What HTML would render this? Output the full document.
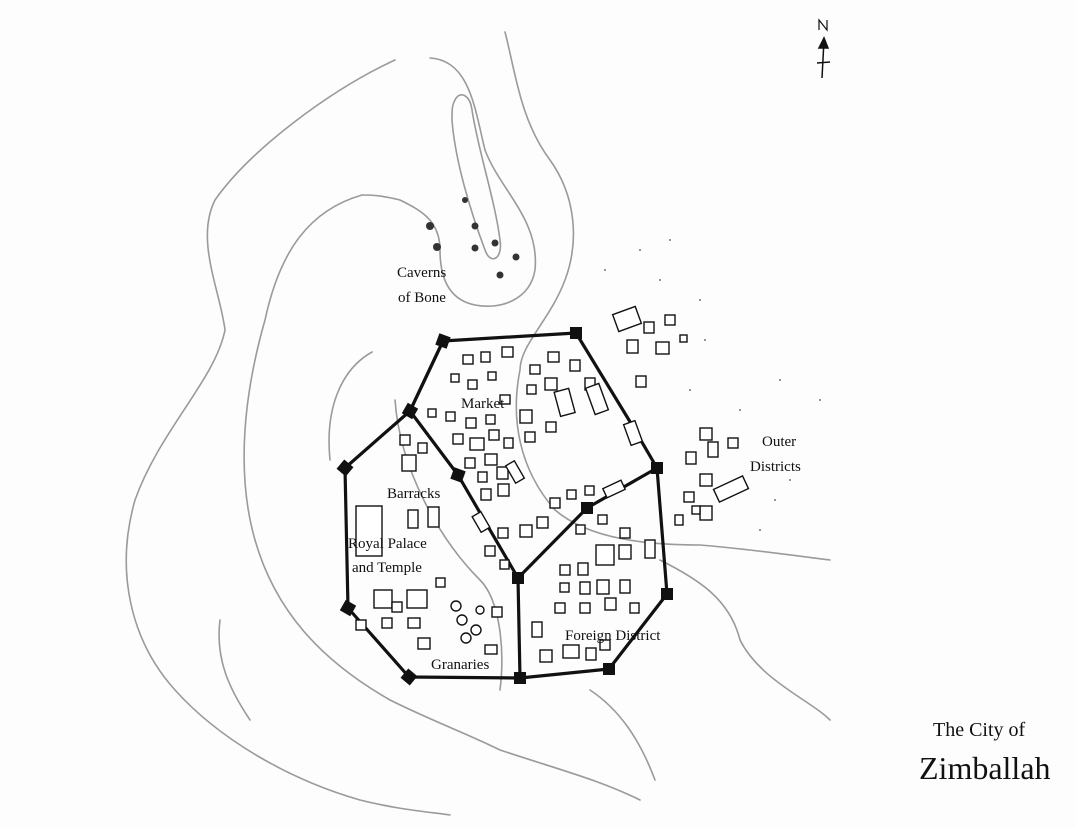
<!DOCTYPE html>
<html><head><meta charset="utf-8"><style>
html,body{margin:0;padding:0;background:#fff}
svg{display:block}
text{font-family:"Liberation Serif",serif;fill:#111}
</style></head><body>
<svg width="1076" height="827" viewBox="0 0 1076 827" xmlns="http://www.w3.org/2000/svg">
<rect width="1076" height="827" fill="#fdfdfd"/>
<g fill="none" stroke="#9a9a9a" stroke-width="1.6" stroke-linecap="round">
<path d="M395,60 C330,90 250,150 215,200 C195,240 220,290 225,330 C215,380 160,430 135,500 C115,570 130,640 175,690 C220,740 290,780 360,800 C400,810 430,812 450,815"/>
<path d="M362,195 C310,210 280,250 265,320 C245,390 235,470 255,540 C275,610 320,660 390,700 C430,720 470,735 500,750 C560,770 600,780 640,800"/>
<path d="M430,58 C470,60 475,110 485,150 C500,190 540,220 535,270 C530,300 500,310 475,305 C450,300 440,280 440,250 C440,220 420,210 400,200 C380,195 370,195 362,195"/>
<path d="M455,100 C460,90 470,95 472,110 C478,150 495,200 500,240 C503,260 490,265 485,250 C470,210 455,160 452,120 C452,110 452,105 455,100 Z"/>
<path d="M505,32 C515,70 520,120 550,160 C575,195 580,240 565,280 C550,320 520,345 520,370 C510,420 520,470 555,510 C590,540 650,545 700,545 C740,548 790,555 830,560"/>
<path d="M372,352 C340,370 325,410 330,460"/>
<path d="M395,400 C400,470 440,540 480,580 C500,600 505,650 500,690"/>
<path d="M660,560 C700,580 730,600 740,640 C760,680 810,700 830,720"/>
<path d="M590,690 C620,710 640,740 655,780"/>
<path d="M250,720 C230,690 215,660 220,620"/>
</g>
<!-- walls -->
<g fill="none" stroke="#111" stroke-width="3.2" stroke-linejoin="round" stroke-linecap="round">
<path d="M443,341 L576,333 L632,425 L657,468 L667,594 L609,669 L520,678 L409,677 L348,608 L345,468 L410,411 Z"/>
<path d="M443,341 L410,411 L458,475 L518,578 L520,678"/>
<path d="M518,578 L587,508 L657,468"/>
</g>
<g fill="#111">
<rect x="437" y="335" width="12" height="12" transform="rotate(20 443 341)"/>
<rect x="570" y="327" width="12" height="12"/>
<rect x="404" y="405" width="12" height="12" transform="rotate(30 410 411)"/>
<rect x="339" y="462" width="12" height="12" transform="rotate(40 345 468)"/>
<rect x="452" y="469" width="12" height="12" transform="rotate(20 458 475)"/>
<rect x="651" y="462" width="12" height="12"/>
<rect x="581" y="502" width="12" height="12"/>
<rect x="512" y="572" width="12" height="12"/>
<rect x="661" y="588" width="12" height="12"/>
<rect x="342" y="602" width="12" height="12" transform="rotate(30 348 608)"/>
<rect x="403" y="671" width="12" height="12" transform="rotate(40 409 677)"/>
<rect x="514" y="672" width="12" height="12"/>
<rect x="603" y="663" width="12" height="12"/>
</g>
<g fill="#fff" stroke="#111" stroke-width="1.4">
<rect x="627" y="422" width="12" height="22" transform="rotate(-20 633 433)"/>
<rect x="604" y="484" width="20" height="10" transform="rotate(-25 614 489)"/>
<rect x="476" y="513" width="10" height="18" transform="rotate(-30 481 522)"/>
<rect x="356" y="506" width="26" height="50"/>
<!-- buildings -->
<g>
<rect x="463" y="355" width="10" height="9"/><rect x="481" y="352" width="9" height="10"/><rect x="502" y="347" width="11" height="10"/>
<rect x="451" y="374" width="8" height="8"/><rect x="468" y="380" width="9" height="9"/><rect x="488" y="372" width="8" height="8"/>
<rect x="530" y="365" width="10" height="9"/><rect x="548" y="352" width="11" height="10"/><rect x="570" y="360" width="10" height="11"/>
<rect x="527" y="385" width="9" height="9"/><rect x="545" y="378" width="12" height="12"/><rect x="585" y="378" width="10" height="12"/>
<rect x="557" y="390" width="15" height="25" transform="rotate(-15 564 402)"/><rect x="590" y="385" width="14" height="28" transform="rotate(-20 597 399)"/>
<rect x="500" y="395" width="10" height="9"/><rect x="520" y="410" width="12" height="13"/><rect x="546" y="422" width="10" height="10"/><rect x="525" y="432" width="10" height="10"/>
<rect x="428" y="409" width="8" height="8"/><rect x="446" y="412" width="9" height="9"/><rect x="466" y="418" width="10" height="10"/><rect x="486" y="415" width="9" height="9"/>
<rect x="453" y="434" width="10" height="10"/><rect x="470" y="438" width="14" height="12"/><rect x="489" y="430" width="10" height="10"/><rect x="504" y="438" width="9" height="10"/>
<rect x="465" y="458" width="10" height="10"/><rect x="485" y="454" width="12" height="11"/><rect x="497" y="467" width="11" height="12"/><rect x="510" y="462" width="10" height="20" transform="rotate(-30 515 472)"/>
<rect x="478" y="472" width="9" height="10"/><rect x="481" y="489" width="10" height="11"/><rect x="498" y="484" width="11" height="12"/>
<rect x="400" y="435" width="10" height="10"/><rect x="418" y="443" width="9" height="10"/><rect x="402" y="455" width="14" height="16"/>
<rect x="408" y="510" width="10" height="18"/><rect x="428" y="507" width="11" height="20"/>
<rect x="520" y="525" width="12" height="12"/><rect x="537" y="517" width="11" height="11"/><rect x="550" y="498" width="10" height="10"/><rect x="567" y="490" width="9" height="9"/><rect x="585" y="486" width="9" height="9"/>
<rect x="498" y="528" width="10" height="10"/><rect x="485" y="546" width="10" height="10"/><rect x="500" y="560" width="9" height="9"/>
<rect x="374" y="590" width="18" height="18"/><rect x="392" y="602" width="10" height="10"/><rect x="407" y="590" width="20" height="18"/>
<rect x="382" y="618" width="10" height="10"/><rect x="408" y="618" width="12" height="10"/><rect x="356" y="620" width="10" height="10"/><rect x="418" y="638" width="12" height="11"/><rect x="436" y="578" width="9" height="9"/>
<rect x="492" y="607" width="10" height="10"/><rect x="485" y="645" width="12" height="9"/>
<rect x="596" y="545" width="18" height="20"/><rect x="619" y="545" width="12" height="14"/><rect x="645" y="540" width="10" height="18"/>
<rect x="576" y="525" width="9" height="9"/><rect x="598" y="515" width="9" height="9"/><rect x="620" y="528" width="10" height="10"/>
<rect x="560" y="565" width="10" height="10"/><rect x="578" y="563" width="10" height="12"/><rect x="560" y="583" width="9" height="9"/>
<rect x="580" y="582" width="10" height="12"/><rect x="597" y="580" width="12" height="14"/><rect x="620" y="580" width="10" height="13"/>
<rect x="555" y="603" width="10" height="10"/><rect x="580" y="603" width="10" height="10"/><rect x="605" y="598" width="11" height="12"/><rect x="630" y="603" width="9" height="10"/>
<rect x="532" y="622" width="10" height="15"/><rect x="540" y="650" width="12" height="12"/><rect x="563" y="645" width="16" height="13"/><rect x="586" y="648" width="10" height="12"/><rect x="600" y="640" width="10" height="10"/>
<!-- outside -->
<rect x="615" y="310" width="24" height="18" transform="rotate(-20 627 319)"/><rect x="644" y="322" width="10" height="11"/><rect x="665" y="315" width="10" height="10"/>
<rect x="627" y="340" width="11" height="13"/><rect x="656" y="342" width="13" height="12"/><rect x="680" y="335" width="7" height="7"/><rect x="636" y="376" width="10" height="11"/>
<rect x="700" y="428" width="12" height="12"/><rect x="686" y="452" width="10" height="12"/><rect x="708" y="442" width="10" height="15"/><rect x="728" y="438" width="10" height="10"/>
<rect x="700" y="474" width="12" height="12"/><rect x="684" y="492" width="10" height="10"/><rect x="700" y="506" width="12" height="14"/><rect x="715" y="482" width="32" height="14" transform="rotate(-25 731 489)"/>
<rect x="675" y="515" width="8" height="10"/><rect x="692" y="506" width="8" height="8"/>
</g>
<g><circle cx="456" cy="606" r="5"/><circle cx="462" cy="620" r="5"/><circle cx="476" cy="630" r="5"/><circle cx="466" cy="638" r="5"/><circle cx="480" cy="610" r="4"/></g>
</g>
<g fill="#333">
<circle cx="430" cy="226" r="4"/><circle cx="437" cy="247" r="4"/><circle cx="465" cy="200" r="3"/><circle cx="475" cy="226" r="3.5"/><circle cx="475" cy="248" r="3.5"/><circle cx="495" cy="243" r="3.5"/><circle cx="500" cy="275" r="3.5"/><circle cx="516" cy="257" r="3.5"/>
</g>
<g fill="#777">
<circle cx="605" cy="270" r="1"/><circle cx="640" cy="250" r="1"/><circle cx="670" cy="240" r="1"/><circle cx="700" cy="300" r="1"/><circle cx="705" cy="340" r="1"/><circle cx="740" cy="410" r="1"/><circle cx="790" cy="480" r="1"/><circle cx="775" cy="500" r="1"/><circle cx="760" cy="530" r="1"/><circle cx="820" cy="400" r="1"/><circle cx="690" cy="390" r="1"/><circle cx="660" cy="280" r="1"/><circle cx="780" cy="380" r="1"/>
</g>
<!-- north arrow -->
<g stroke="#111" stroke-width="1.5" fill="none">
<line x1="824" y1="40" x2="822" y2="78"/><line x1="817" y1="63" x2="830" y2="62"/>
<path d="M819,48 L824,38 L828,48 Z" fill="#111"/>
<path d="M819,30 L819,20 L827,30 L827,20" stroke-width="1.2"/>
</g>
<g font-size="15">
<text x="397" y="277">Caverns</text><text x="398" y="302">of Bone</text>
<text x="461" y="408">Market</text>
<text x="762" y="446">Outer</text><text x="750" y="471">Districts</text>
<text x="387" y="498">Barracks</text>
<text x="348" y="548">Royal Palace</text><text x="352" y="572">and Temple</text>
<text x="565" y="640">Foreign District</text>
<text x="431" y="669">Granaries</text>
</g>
<text x="933" y="736" font-size="20">The City of</text>
<text x="919" y="779" font-size="32">Zimballah</text>
</svg>
</body></html>
